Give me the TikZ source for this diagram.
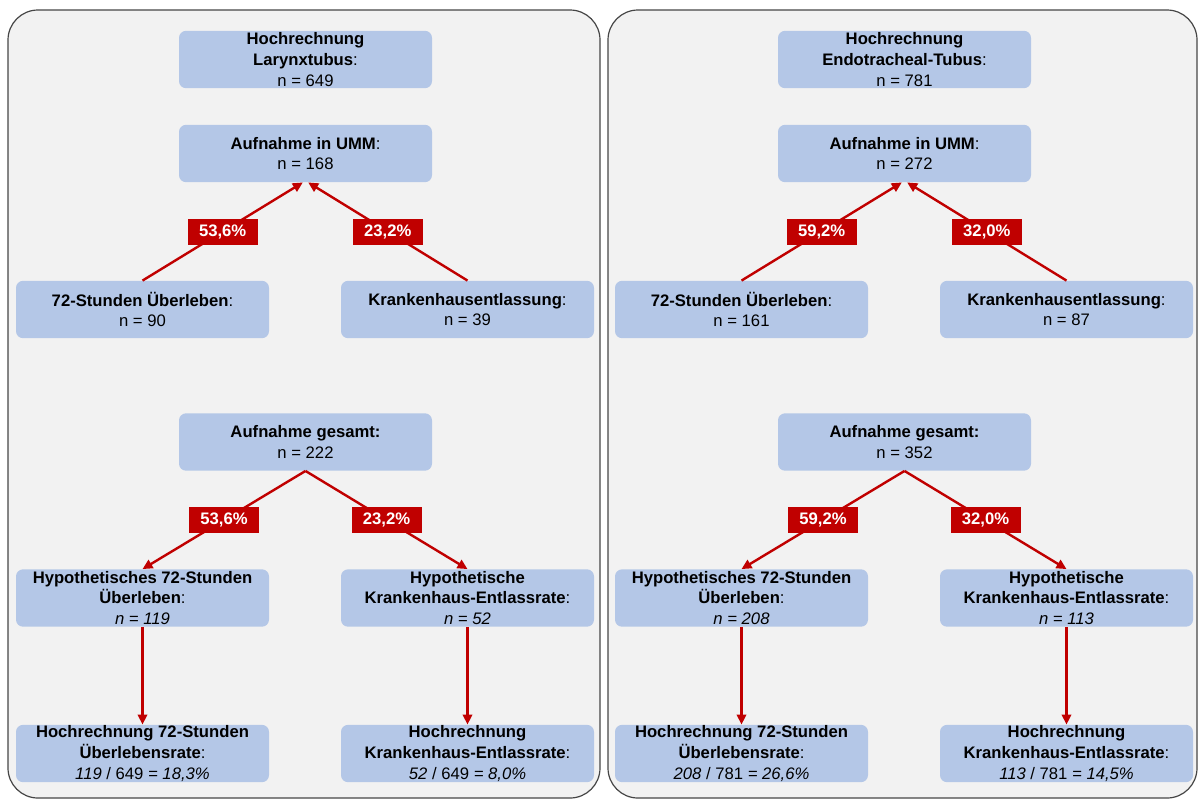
\documentclass[tikz,border=0pt]{standalone}
\usepackage{fontspec}
\setmainfont{Liberation Sans}
\usetikzlibrary{arrows.meta}
\definecolor{boxblue}{RGB}{180,199,231}
\definecolor{panelgray}{RGB}{242,242,242}
\definecolor{darkred}{RGB}{192,0,0}
\definecolor{bordergray}{RGB}{70,70,70}
\tikzset{
 box/.style={fill=boxblue, rounded corners=5.25pt, minimum width=189.75pt, minimum height=43pt, inner sep=0pt, align=center, font=\fontsize{12.5}{15.6}\selectfont},
 pct/.style={fill=darkred, text=white, font=\bfseries\fontsize{12.5}{15}\selectfont, minimum width=52.5pt, minimum height=19.5pt, inner sep=0pt},
 conn/.style={draw=darkred, line width=1.8pt, -{Triangle[length=7.5pt,width=7pt]}},
 panel/.style={draw=bordergray, fill=panelgray, line width=0.9pt, rounded corners=22.5pt},
}
\begin{document}
\begin{tikzpicture}[x=0.75pt,y=-0.75pt]
\useasboundingbox (0,0) rectangle (1198,801);
% panels
\draw[panel] (8,10) rectangle (600,798);
\draw[panel] (608,10) rectangle (1197,798);
% ---------- left panel ----------
\node[box] (Ltop) at (305.5,59.5) {\textbf{Hochrechnung}\\\textbf{Larynxtubus}:\\n = 649};
\node[box] (Lumm) at (305.5,153.5) {\textbf{Aufnahme in UMM}:\\n = 168};
\node[box] (Lsurv) at (142.5,309.5) {\textbf{72-Stunden Überleben}:\\n = 90};
\node[box] (Ldisch) at (467.5,309.5) {\textbf{Krankenhausentlassung}:\\n = 39};
\node[box] (Lges) at (305.5,442) {\textbf{Aufnahme gesamt:}\\n = 222};
\node[box] (Lhsurv) at (142.5,598) {\textbf{Hypothetisches 72-Stunden}\\\textbf{Überleben}:\\\textit{n = 119}};
\node[box] (Lhdisch) at (467.5,598) {\textbf{Hypothetische}\\\textbf{Krankenhaus-Entlassrate}:\\\textit{n = 52}};
\node[box] (Lrsurv) at (142.5,753.5) {\textbf{Hochrechnung 72-Stunden}\\\textbf{Überlebensrate}:\\\textit{119} / 649 \textit{= 18,3\%}};
\node[box] (Lrdisch) at (467.5,753.5) {\textbf{Hochrechnung}\\\textbf{Krankenhaus-Entlassrate}:\\\textit{52} / 649 \textit{= 8,0\%}};
\draw[conn] (Lsurv.north) -- node[pct] (Lp1) {53,6\%} ([xshift=-2pt]Lumm.south);
\draw[conn] (Ldisch.north) -- node[pct] (Lp2) {23,2\%} ([xshift=2pt]Lumm.south);
\draw[conn] (Lges.south) -- node[pct] (Lp3) {53,6\%} (Lhsurv.north);
\draw[conn] (Lges.south) -- node[pct] (Lp4) {23,2\%} (Lhdisch.north);
\draw[conn] (Lhsurv.south) -- (Lrsurv.north);
\draw[conn] (Lhdisch.south) -- (Lrdisch.north);
% ---------- right panel ----------
\node[box] (Rtop) at (904.5,59.5) {\textbf{Hochrechnung}\\\textbf{Endotracheal-Tubus}:\\n = 781};
\node[box] (Rumm) at (904.5,153.5) {\textbf{Aufnahme in UMM}:\\n = 272};
\node[box] (Rsurv) at (741.5,309.5) {\textbf{72-Stunden Überleben}:\\n = 161};
\node[box] (Rdisch) at (1066.5,309.5) {\textbf{Krankenhausentlassung}:\\n = 87};
\node[box] (Rges) at (904.5,442) {\textbf{Aufnahme gesamt:}\\n = 352};
\node[box] (Rhsurv) at (741.5,598) {\textbf{Hypothetisches 72-Stunden}\\\textbf{Überleben}:\\\textit{n = 208}};
\node[box] (Rhdisch) at (1066.5,598) {\textbf{Hypothetische}\\\textbf{Krankenhaus-Entlassrate}:\\\textit{n = 113}};
\node[box] (Rrsurv) at (741.5,753.5) {\textbf{Hochrechnung 72-Stunden}\\\textbf{Überlebensrate}:\\\textit{208} / 781 \textit{= 26,6\%}};
\node[box] (Rrdisch) at (1066.5,753.5) {\textbf{Hochrechnung}\\\textbf{Krankenhaus-Entlassrate}:\\\textit{113} / 781 \textit{= 14,5\%}};
\draw[conn] (Rsurv.north) -- node[pct] (Rp1) {59,2\%} ([xshift=-2pt]Rumm.south);
\draw[conn] (Rdisch.north) -- node[pct] (Rp2) {32,0\%} ([xshift=2pt]Rumm.south);
\draw[conn] (Rges.south) -- node[pct] (Rp3) {59,2\%} (Rhsurv.north);
\draw[conn] (Rges.south) -- node[pct] (Rp4) {32,0\%} (Rhdisch.north);
\draw[conn] (Rhsurv.south) -- (Rrsurv.north);
\draw[conn] (Rhdisch.south) -- (Rrdisch.north);
\end{tikzpicture}
\end{document}
